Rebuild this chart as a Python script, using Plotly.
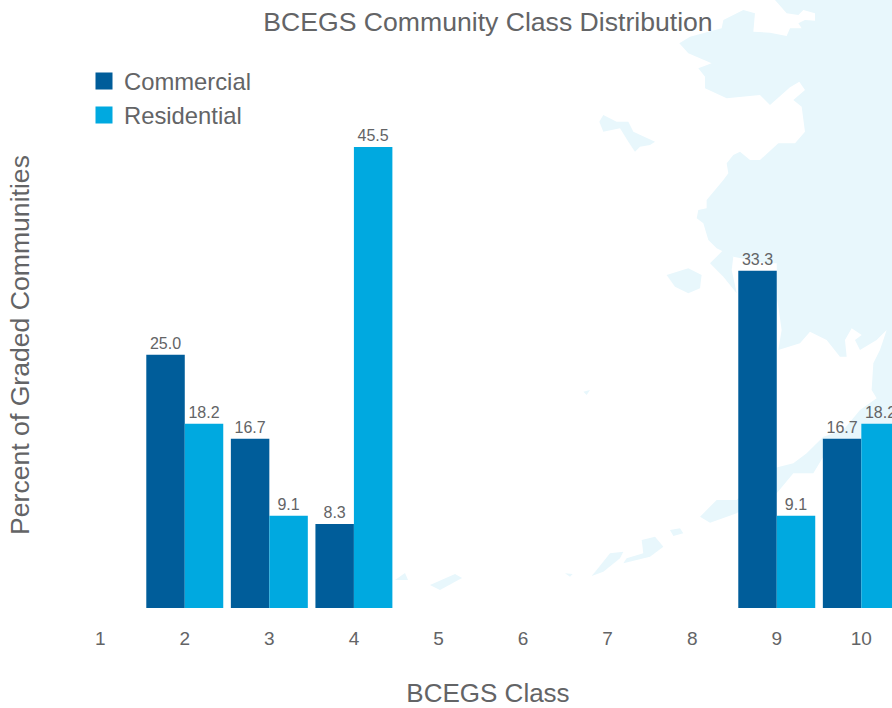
import plotly.graph_objects as go

# --- chart data ---
classes = [1, 2, 3, 4, 5, 6, 7, 8, 9, 10]
commercial = [None, 25.0, 16.7, 8.3, None, None, None, None, 33.3, 16.7]
residential = [None, 18.2, 9.1, 45.5, None, None, None, None, 9.1, 18.2]
tick_labels = ["1", "2", "3", "4", "5", "6", "7", "8", "9", "10"]
title_text = "BCEGS Community Class Distribution"
x_title = "BCEGS Class"
y_title = "Percent of Graded Communities"

# --- style ---
W, H = 892, 708
L, R, T, B = 84, 892, 82, 608
GREY = "#636466"
DARK = "#005d9a"
LIGHT = "#00a9e0"
MAP = "#e8f7fc"
FONT = "Liberation Sans"

# --- decorative backdrop: outline of Alaska, in window pixels ---
def z2(points):
    return [(560 + x / 3, y / 3) for x, y in points]

def z3(points):
    return [(560 + x / 3, 300 + y / 3) for x, y in points]

mainland = z2([(645, 0), (680, 40), (715, 45), (730, 30), (765, 40), (765, 62), (735, 60), (715, 70),
               (725, 85), (690, 85), (680, 108), (630, 98), (580, 95), (585, 40), (550, 30), (490, 60),
               (485, 85), (390, 110), (358, 130), (385, 160), (455, 190), (415, 205), (435, 230),
               (435, 265), (500, 295), (600, 285), (630, 315), (690, 262), (718, 245), (735, 270),
               (700, 300), (725, 320), (735, 395), (705, 430), (655, 430), (600, 480), (570, 480),
               (540, 455), (520, 465), (500, 490), (505, 520), (490, 540), (440, 600), (440, 625),
               (415, 630), (410, 655), (430, 670), (445, 720), (470, 745), (520, 770), (620, 790),
               (650, 790)]) + z3([(652, 0), (665, 90), (655, 150), (720, 130), (750, 95), (800, 120),
               (840, 170), (860, 170), (855, 120), (875, 85), (905, 105), (885, 120), (900, 150),
               (950, 120), (980, 90), (960, 150), (940, 190), (935, 270), (950, 295), (900, 330),
               (850, 390), (790, 410), (740, 460), (700, 490), (620, 510), (530, 600), (470, 600),
               (420, 650), (450, 668), (530, 640), (600, 590), (650, 580), (700, 520), (760, 520),
               (790, 470), (850, 440), (900, 420), (996, 400)]) + [(892, 0)]
islands = [
    z2([(118, 365), (130, 345), (170, 365), (205, 365), (220, 395), (285, 425), (270, 435), (240, 440),
        (225, 455), (205, 425), (180, 385), (130, 395)]),
    z2([(320, 825), (385, 805), (425, 825), (420, 865), (385, 880), (345, 860)]),
    z2([(450, 790), (490, 750), (520, 770), (515, 810), (530, 880), (490, 830)]),
    z3([(330, 690), (360, 685), (370, 700), (340, 708)]),
    z3([(245, 720), (285, 710), (310, 740), (270, 770), (190, 790), (200, 775), (250, 760)]),
    z3([(110, 810), (150, 760), (190, 755), (180, 775), (130, 815), (95, 828)]),
    z3([(15, 820), (38, 822), (30, 830)]),
    z3([(70, 275), (90, 270), (80, 285)]),
    [(430, 585), (455, 574), (462, 578), (440, 590)],
    [(395, 580), (405, 573), (408, 580)],
]

def to_path(points):
    fx = lambda x: (x - L) / (R - L)
    fy = lambda y: (B - y) / (B - T)
    return "M" + "L".join(f"{fx(x):.4f},{fy(y):.4f}" for x, y in points) + "Z"

shapes = [dict(type="path", xref="paper", yref="paper", layer="below", path=to_path(p),
               fillcolor=MAP, line=dict(width=0))
          for p in [mainland] + islands]

# first (empty) point's outline width sizes the legend swatch only
swatch = [5] + [0] * 9

def labels(vals):
    return [None if v is None else f"{v:.1f}" for v in vals]

fig = go.Figure()
for name, vals, col in [("Commercial", commercial, DARK), ("Residential", residential, LIGHT)]:
    fig.add_bar(x=classes, y=vals, name=name, text=labels(vals), textposition="outside",
                cliponaxis=False,
                textfont=dict(family=FONT, size=16, color=GREY),
                marker=dict(color=col, line=dict(color=col, width=swatch)))

PX = 84.57
X1 = 100.2

fig.update_layout(
    width=W, height=H, autosize=False,
    margin=dict(l=L, r=W - R, t=T, b=H - B, pad=0),
    paper_bgcolor="white", plot_bgcolor="rgba(0,0,0,0)",
    font=dict(family=FONT, color=GREY),
    shapes=shapes,
    barmode="group", bargap=0.09, bargroupgap=0,
    title=dict(text=title_text, x=488 / W, xanchor="center", y=1 - 22 / H, yanchor="middle",
               yref="container", font=dict(size=26.6, color=GREY, family=FONT)),
    legend=dict(x=(84 - L) / (R - L), xanchor="left", y=(B - 59) / (B - T), yanchor="top",
                bgcolor="rgba(0,0,0,0)", font=dict(size=23.8, color=GREY, family=FONT),
                itemwidth=30, tracegroupgap=0),
    xaxis=dict(range=[1 - (X1 - L) / PX, 1 + (R - X1) / PX], tickmode="array", tickvals=classes,
               ticktext=tick_labels, showgrid=False, zeroline=False, showline=False, ticks="",
               ticklabelstandoff=17, tickfont=dict(size=19, color=GREY, family=FONT),
               title=dict(text=x_title, standoff=36, font=dict(size=26, color=GREY, family=FONT))),
    yaxis=dict(range=[0, (B - T) / 10.13], showgrid=False, zeroline=False, showline=False,
               showticklabels=False, ticks="",
               title=dict(text=y_title, standoff=45, font=dict(size=26.6, color=GREY, family=FONT))),
    showlegend=True,
)
fig.write_html("out.html", post_script="document.body.style.margin='0';",
               config=dict(displayModeBar=False))
